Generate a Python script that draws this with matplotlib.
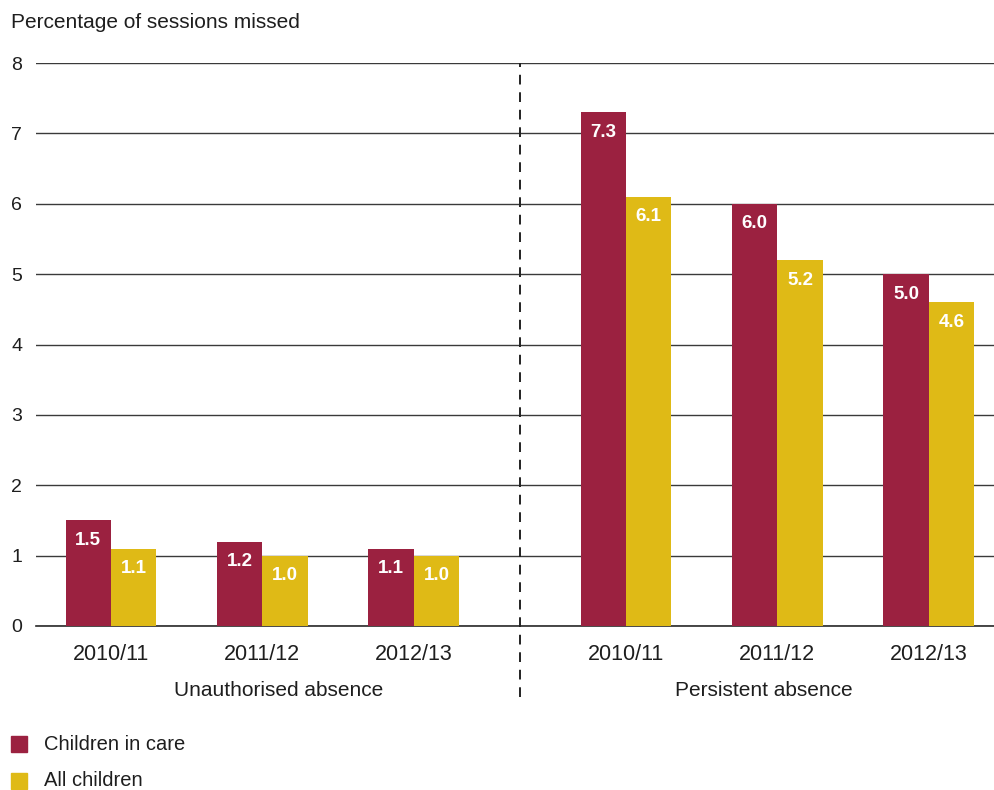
import matplotlib
matplotlib.use("Agg")
import matplotlib.pyplot as plt
from matplotlib.patches import Rectangle
import numpy as np

plt.rcParams['font.family'] = ['Liberation Sans', 'DejaVu Sans']

years = ["2010/11", "2011/12", "2012/13", "2010/11", "2011/12", "2012/13"]
groups = ["Unauthorised absence", "Persistent absence"]
series_names = ["Children in care", "All children"]
children_in_care = [1.5, 1.2, 1.1, 7.3, 6.0, 5.0]
all_children = [1.1, 1.0, 1.0, 6.1, 5.2, 4.6]

red = "#9B2140"
yellow = "#DFBA16"
text_col = "#1e1e1e"

fig = plt.figure(figsize=(9.94, 7.9), dpi=100)
ax = fig.add_axes([36 / 994, 1 - 626 / 790, 1 - 36 / 994, (626 - 63) / 790])

x = np.array([0, 1, 2, 3.4, 4.4, 5.4])
w = 0.30

ax.set_ylim(0, 8)
ax.set_xlim(-0.495, 5.83)
ax.set_yticks(range(0, 9))
ax.yaxis.grid(True, color="#3a3a3a", linewidth=1)
ax.set_axisbelow(True)
for s in ax.spines.values():
    s.set_visible(False)
ax.axhline(0, color="#2a2a2a", linewidth=1.2, clip_on=False, zorder=2)
ax.tick_params(length=0, labelsize=14, colors=text_col)
ax.tick_params(axis='y', pad=10)
ax.tick_params(axis='x', pad=13, labelsize=15.5)

b1 = ax.bar(x - w / 2, children_in_care, width=w, color=red, zorder=3)
b2 = ax.bar(x + w / 2, all_children, width=w, color=yellow, zorder=3)

for bars, vals in ((b1, children_in_care), (b2, all_children)):
    for rect, v in zip(bars, vals):
        ax.annotate(f"{v:.1f}", (rect.get_x() + rect.get_width() / 2, v),
                    xytext=(0, -20), textcoords="offset pixels",
                    ha="center", va="center", color="white", fontsize=13.5,
                    fontweight="bold", zorder=4)

ax.set_xticks(x)
ax.set_xticklabels(years)

# Dashed divider between the two absence types
divider = (x[2] + x[3]) / 2
ax.axvline(divider, ymin=-0.126, ymax=1.0, color="#222222",
           linestyle=(0, (5, 4)), linewidth=1.4, clip_on=False, zorder=5)

# Group labels under the year ticks
ax.text(1.11, -0.92, groups[0], ha="center", va="center",
        fontsize=15, color=text_col, clip_on=False)
ax.text(4.31, -0.92, groups[1], ha="center", va="center",
        fontsize=15, color=text_col, clip_on=False)

# Axis title
fig.text(11 / 994, 1 - 23 / 790, "Percentage of sessions missed", ha="left",
         va="center", fontsize=15, color=text_col)

# Legend
for i, (name, col) in enumerate(zip(series_names, [red, yellow])):
    yc = 744 + i * 37
    fig.patches.append(Rectangle((11 / 994, 1 - (yc + 8) / 790), 16 / 994, 16 / 790,
                                 transform=fig.transFigure, color=col))
    fig.text(44 / 994, 1 - yc / 790, name, ha="left", va="center",
             fontsize=14.5, color=text_col)

fig.savefig("out.png", dpi=100)
